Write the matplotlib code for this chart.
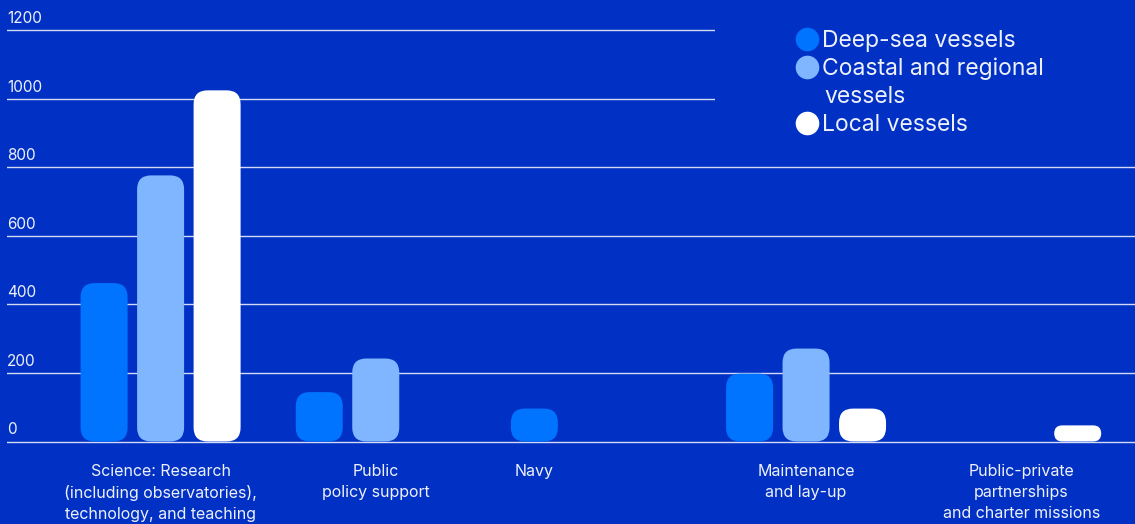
import numpy as np
import matplotlib
matplotlib.use("Agg")
import matplotlib.pyplot as plt
from matplotlib.patches import FancyBboxPatch, Rectangle
from matplotlib.lines import Line2D
import matplotlib.transforms as mtransforms

plt.rcParams['font.family'] = ['Inter', 'DejaVu Sans']

# data
categories = ["Science: Research\n(including observatories),\ntechnology, and teaching",
              "Public\npolicy support",
              "Navy",
              "Maintenance\nand lay-up",
              "Public-private\npartnerships\nand charter missions"]
series_names = ["Deep-sea vessels", "Coastal and regional\nvessels", "Local vessels"]
deep_sea = [462, 144, 96, 198, 0]
coastal = [776, 242, 0, 271, 0]
local = [1024, 0, 0, 96, 47]
yticks = [0, 200, 400, 600, 800, 1000, 1200]

BG = '#0131c4'
colors = ['#0073ff', '#80b6ff', '#ffffff']
TXT = '#eef1fb'

W, H = 1135, 524
fig = plt.figure(figsize=(W / 100, H / 100), dpi=100, facecolor=BG)

# pixel layout (top-origin pixels)
zero_px, top_px = 441.5, 30.0
ppu_y = (zero_px - top_px) / 1200.0
ymin, ymax = -8, 1228
ax_bot = zero_px - ymin * ppu_y
ax_top = zero_px - ymax * ppu_y
c0_px, step_px = 160.6, 215.15
left_px, right_px = 7, W
xmin = -(c0_px - left_px) / step_px
xmax = (right_px - c0_px) / step_px

ax = fig.add_axes([left_px / W, (H - ax_bot) / H, (right_px - left_px) / W, (ax_bot - ax_top) / H])
ax.set_facecolor(BG)
ax.set_xlim(xmin, xmax)
ax.set_ylim(ymin, ymax)
for s in ax.spines.values():
    s.set_visible(False)

ax.set_axisbelow(True)
ax.set_yticks(yticks)
ax.yaxis.grid(True, color='#d3daf5', linewidth=1.0)
ax.tick_params(axis='y', length=0, labelleft=False)

# y labels sit above the gridlines
trans = mtransforms.offset_copy(mtransforms.blended_transform_factory(ax.transAxes, ax.transData),
                                fig=fig, x=0, y=4, units='dots')
for v in yticks:
    ax.text(0, v, str(v), transform=trans, ha='left', va='bottom', color=TXT, fontsize=11)

# rounded bars
bar_w = 47 / step_px
offset = 56.5 / step_px
radius_px = 14
aspect = step_px / ppu_y
x = np.arange(len(categories))
for k, vals in enumerate([deep_sea, coastal, local]):
    for i, v in enumerate(vals):
        if not v:
            continue
        h_px = v * ppu_y
        r = min(radius_px, h_px / 2) / step_px
        xc = x[i] + (k - 1) * offset
        ax.add_patch(FancyBboxPatch((xc - bar_w / 2, 0), bar_w, v,
                                    boxstyle=f"round,pad=0,rounding_size={r}",
                                    mutation_aspect=aspect, facecolor=colors[k],
                                    edgecolor='none', zorder=2))

# category labels (Navy label sits under its single bar)
label_x = x.astype(float)
label_x[2] -= offset
ax.set_xticks(label_x)
ax.set_xticklabels(categories, color=TXT, fontsize=11.5, linespacing=1.5)
ax.tick_params(axis='x', length=0, pad=14)

# legend area hides gridlines behind it
fig.add_artist(Rectangle((715 / W, 1 - 140 / H), (W - 715) / W, 140 / H,
                         transform=fig.transFigure, facecolor=BG, edgecolor='none', zorder=1))
row_px = 39
line_gap = 28
for k, name in enumerate(series_names):
    yy = 1 - row_px / H
    fig.add_artist(Line2D([807 / W], [yy], marker='o', markersize=16, color=colors[k],
                          linestyle='none', transform=fig.transFigure, zorder=3))
    for j, line in enumerate(name.split('\n')):
        fig.text((822 + 2 * j) / W, 1 - (row_px + j * line_gap) / H, line, ha='left', va='baseline',
                 color=TXT, fontsize=16.5, zorder=3,
                 transform=mtransforms.offset_copy(fig.transFigure, fig=fig, y=-8, units='dots'))
    row_px += line_gap * len(name.split('\n'))

fig.savefig('out.png', dpi=100, facecolor=BG)
